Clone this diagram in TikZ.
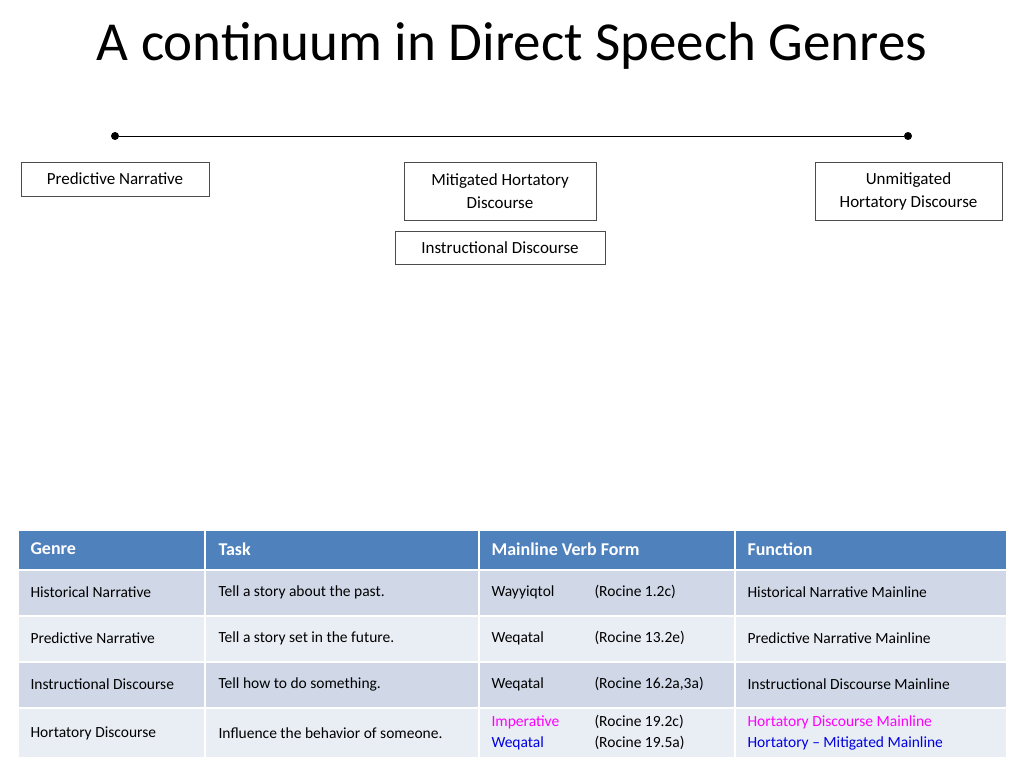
\documentclass[tikz,border=0pt]{standalone}
\usepackage{fontspec}
\setmainfont{Carlito}
\definecolor{hdr}{HTML}{4F81BD}
\definecolor{rowa}{HTML}{D0D8E8}
\definecolor{rowb}{HTML}{E9EDF4}
\definecolor{mag}{HTML}{FF00FF}
\definecolor{blu}{HTML}{0000E0}
\begin{document}
\begin{tikzpicture}[x=1pt,y=-1pt,
  box/.style={draw=black!70,line width=0.8pt,align=center,font=\fontsize{17}{23}\selectfont,inner sep=0pt},
  cell/.style={draw=white,line width=2pt,anchor=north west,inner sep=0pt},
  ctext/.style={anchor=west,font=\fontsize{15.5}{21}\selectfont,align=left},
  htext/.style={anchor=west,font=\bfseries\fontsize{18}{22}\selectfont,text=white},
  dot/.style={circle,fill=black,inner sep=0pt,minimum size=8pt}]
\useasboundingbox (0,0) rectangle (1024,768);
\node[font=\fontsize{55}{60}\selectfont] (title) at (512,46) {A continuum in Direct Speech Genres};
\node[dot] (l) at (115,136) {};
\node[dot] (r) at (908,136) {};
\draw[line width=1pt] (l) -- (r);
\node[box,minimum width=188pt,minimum height=34pt] (pn) at (115,179) {Predictive Narrative};
\node[box,minimum width=192pt,minimum height=58pt] (mh) at (500,191) {Mitigated Hortatory\\Discourse};
\node[box,minimum width=187pt,minimum height=58pt] (uh) at (908.5,191) {Unmitigated\\Hortatory Discourse};
\node[box,minimum width=210pt,minimum height=33pt] (id) at (500,247.5) {Instructional Discourse};
% table
\foreach \x/\w/\n in {17/187/a,204/274/b,478/256/c,734/272/d}{
  \node[cell,fill=hdr,minimum width=\w pt,minimum height=40pt] (h\n) at (\x,529) {};
  \node[cell,fill=rowa,minimum width=\w pt,minimum height=46pt] (r1\n) at (\x,569) {};
  \node[cell,fill=rowb,minimum width=\w pt,minimum height=46pt] (r2\n) at (\x,615) {};
  \node[cell,fill=rowa,minimum width=\w pt,minimum height=46pt] (r3\n) at (\x,661) {};
  \node[cell,fill=rowb,minimum width=\w pt,minimum height=50pt] (r4\n) at (\x,707) {};
}
\node[htext] (t1) at (27,549) {Genre};
\node[htext] (t2) at (215,549) {Task};
\node[htext] (t3) at (488,549) {Mainline Verb Form};
\node[htext] (t4) at (744,549) {Function};
\node[ctext] (a1) at (27,592) {Historical Narrative};
\node[ctext] (b1) at (215,592) {Tell a story about the past.};
\node[ctext] (c1) at (488,592) {Wayyiqtol};
\node[ctext] (e1) at (591,592) {(Rocine 1.2c)};
\node[ctext] (d1) at (744,592) {Historical Narrative Mainline};
\node[ctext] (a2) at (27,638) {Predictive Narrative};
\node[ctext] (b2) at (215,638) {Tell a story set in the future.};
\node[ctext] (c2) at (488,638) {Weqatal};
\node[ctext] (e2) at (591,638) {(Rocine 13.2e)};
\node[ctext] (d2) at (744,638) {Predictive Narrative Mainline};
\node[ctext] (a3) at (27,684) {Instructional Discourse};
\node[ctext] (b3) at (215,684) {Tell how to do something.};
\node[ctext] (c3) at (488,684) {Weqatal};
\node[ctext] (e3) at (591,684) {(Rocine 16.2a,3a)};
\node[ctext] (d3) at (744,684) {Instructional Discourse Mainline};
\node[ctext] (a4) at (27,733) {Hortatory Discourse};
\node[ctext] (b4) at (215,733) {Influence the behavior of someone.};
\node[ctext,text=mag] (c4) at (488,722) {Imperative};
\node[ctext,text=blu] (c5) at (488,743) {Weqatal};
\node[ctext] (e4) at (591,722) {(Rocine 19.2c)};
\node[ctext] (e5) at (591,743) {(Rocine 19.5a)};
\node[ctext,text=mag] (d4) at (744,722) {Hortatory Discourse Mainline};
\node[ctext,text=blu] (d5) at (744,743) {Hortatory -- Mitigated Mainline};
\end{tikzpicture}
\end{document}
